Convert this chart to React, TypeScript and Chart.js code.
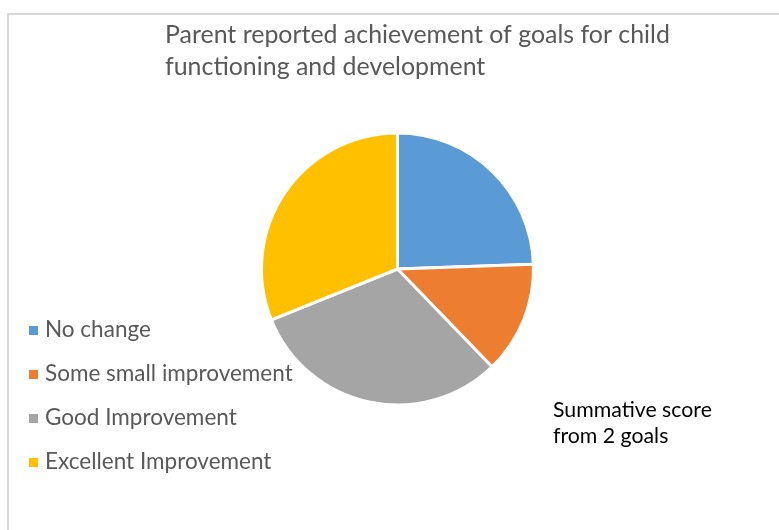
import React, { useEffect, useRef } from 'react';
import { Chart, registerables } from 'chart.js';
Chart.register(...registerables);

const categories = ['No change', 'Some small improvement', 'Good Improvement', 'Excellent Improvement'];
const values = [11, 6, 14, 14];
const colors = ['#5B9BD5', '#ED7D31', '#A5A5A5', '#FFC000'];
const titleLines = ['Parent reported achievement of goals for child', 'functioning and development'];
const noteLines = ['Summative score', 'from 2 goals'];

const FAMILY = 'Lato, "Open Sans", sans-serif';

function fitSize(ctx: CanvasRenderingContext2D, text: string, target: number, base: number) {
  ctx.font = `${base}px ${FAMILY}`;
  const w = ctx.measureText(text).width;
  return (base * target) / w;
}

const decor = {
  id: 'decor',
  beforeDraw(chart: any) {
    const ctx = chart.ctx as CanvasRenderingContext2D;
    ctx.save();
    ctx.fillStyle = '#ffffff';
    ctx.fillRect(0, 0, chart.width, chart.height);
    ctx.fillStyle = '#d9d9d9';
    ctx.fillRect(7, 13, chart.width - 7, 2);
    ctx.fillRect(7, 13, 2, chart.height - 13);
    ctx.restore();
  },
  afterDraw(chart: any) {
    const ctx = chart.ctx as CanvasRenderingContext2D;
    ctx.save();
    ctx.textBaseline = 'alphabetic';
    ctx.textAlign = 'left';
    // title
    const ts = fitSize(ctx, titleLines[0], 505, 22);
    ctx.font = `${ts}px ${FAMILY}`;
    ctx.fillStyle = '#595959';
    ctx.fillText(titleLines[0], 165, 43);
    ctx.fillText(titleLines[1], 165, 75);
    // legend
    const ls = fitSize(ctx, categories[1], 248, 19);
    ctx.font = `${ls}px ${FAMILY}`;
    const labels: string[] = chart.data.labels;
    const bg: string[] = chart.data.datasets[0].backgroundColor;
    const baselines = [337, 381, 425, 469];
    labels.forEach((lab, i) => {
      ctx.fillStyle = bg[i];
      ctx.fillRect(29, baselines[i] - 11, 9, 9);
      ctx.fillStyle = '#595959';
      ctx.fillText(lab, 45, baselines[i]);
    });
    // note
    const ns = fitSize(ctx, noteLines[0], 159, 19);
    ctx.font = `${ns}px ${FAMILY}`;
    ctx.fillStyle = '#000000';
    ctx.fillText(noteLines[0], 553, 417);
    ctx.fillText(noteLines[1], 553, 443);
    ctx.restore();
  },
};

export default function App() {
  const ref = useRef<HTMLCanvasElement>(null);
  useEffect(() => {
    document.body.style.margin = '0';
    const chart = new Chart(ref.current!, {
      type: 'pie',
      data: {
        labels: categories,
        datasets: [
          {
            data: values,
            backgroundColor: colors,
            borderColor: '#ffffff',
            borderWidth: 3,
          },
        ],
      },
      options: {
        responsive: false,
        animation: false,
        layout: { padding: { left: 260, right: 244, top: 131, bottom: 123 } },
        plugins: {
          legend: { display: false },
          title: { display: false },
          tooltip: { enabled: false },
        },
      },
      plugins: [decor],
    });
    return () => chart.destroy();
  }, []);
  return (
    <div style={{ width: 779, height: 530 }}>
      <canvas ref={ref} width={779} height={530} style={{ display: 'block' }} />
    </div>
  );
}
